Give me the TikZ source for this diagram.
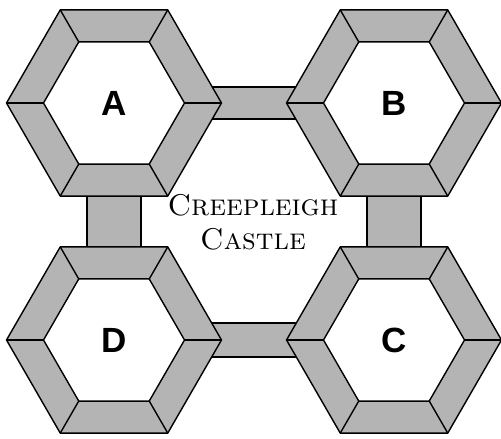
\documentclass[tikz,border=0pt]{standalone}
\usepackage{fontspec}
\newfontfamily\labelfont{Liberation Sans}
\usetikzlibrary{shapes.geometric}
\definecolor{wallgray}{RGB}{180,180,180}
\tikzset{
  wall/.style     = {draw, fill=wallgray, line width=1.4pt, line join=round},
  outerhex/.style = {regular polygon, regular polygon sides=6, wall,
                     minimum size=215pt, inner sep=0pt, outer sep=0pt},
  innerhex/.style = {regular polygon, regular polygon sides=6, draw,
                     fill=white, line width=1.4pt, minimum size=141pt,
                     inner sep=0pt, outer sep=0pt},
  spoke/.style    = {line width=1.4pt},
  towerlabel/.style = {font=\labelfont\bfseries\fontsize{35}{35}\selectfont},
  title/.style    = {align=center, font=\fontsize{30}{34}\selectfont\scshape},
}

\begin{document}
\begin{tikzpicture}[x=1pt, y=1pt]
  \useasboundingbox (0,0) rectangle (501,439);

  % tower centres
  \foreach \t/\x/\y in {A/114/336, B/394/336, C/394/99, D/114/99}
    \coordinate (\t) at (\x,\y);

  % corridors (behind the towers)
  \draw[wall] ([yshift=16pt]A) rectangle ([yshift=-16pt]B);
  \draw[wall] ([yshift=17pt]D) rectangle ([yshift=-17pt]C);
  \draw[wall] ([xshift=-27pt]A) rectangle ([xshift=27pt]D);
  \draw[wall] ([xshift=-27pt]B) rectangle ([xshift=27pt]C);

  % towers
  \foreach \t in {A,B,C,D} {
    \node[outerhex] (\t-out) at (\t) {};
    \node[innerhex] (\t-in) at (\t) {};
    \foreach \i in {1,...,6}
      \draw[spoke] (\t-out.corner \i) -- (\t-in.corner \i);
    \node[towerlabel] (\t-lbl) at (\t) {\t};
  }

  \node[title] (castle) at (253,217) {Creepleigh\\Castle};
\end{tikzpicture}
\end{document}
